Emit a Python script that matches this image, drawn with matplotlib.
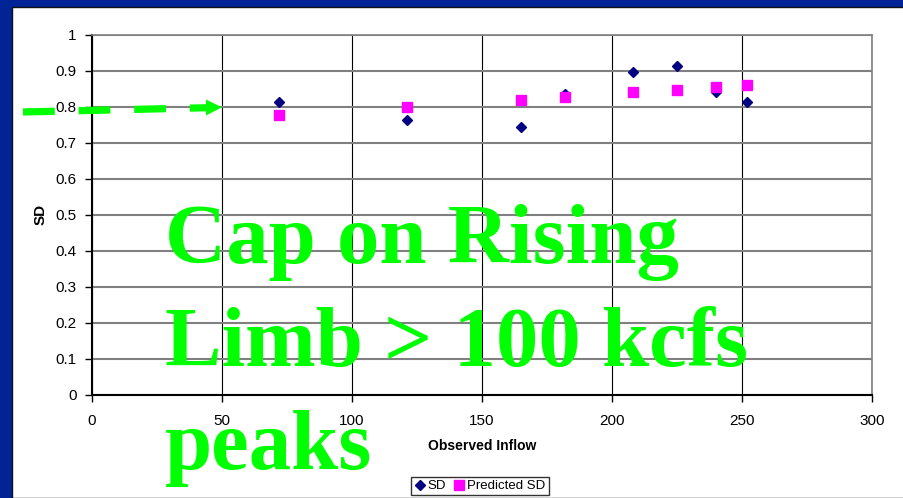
import matplotlib
matplotlib.use('Agg')
import matplotlib.pyplot as plt
from matplotlib.lines import Line2D
from matplotlib.patches import Rectangle, Polygon

# Observed inflow (kcfs) for each peak event
inflow = [72, 121, 165, 182, 208, 225, 240, 252]
# Standard deviation from observations and the predicted values
sd = [0.813, 0.762, 0.744, 0.835, 0.895, 0.912, 0.841, 0.813]
predicted_sd = [0.777, 0.798, 0.819, 0.827, 0.839, 0.847, 0.853, 0.859]

x_ticks = [0, 50, 100, 150, 200, 250, 300]
y_ticks = [0, 0.1, 0.2, 0.3, 0.4, 0.5, 0.6, 0.7, 0.8, 0.9, 1]
y_tick_labels = ['0', '0.1', '0.2', '0.3', '0.4', '0.5', '0.6', '0.7', '0.8', '0.9', '1']

W, H = 904, 498
plt.rcParams['font.family'] = ['Liberation Sans', 'DejaVu Sans']

fig = plt.figure(figsize=(W / 100, H / 100), dpi=100)
fig.patch.set_facecolor('#002396')

# white slide panel
fig.add_artist(Rectangle((12 / W, 0), 1, 1 - 7 / H, transform=fig.transFigure,
                         facecolor='white', edgecolor='#111111', linewidth=1, zorder=0))

ax = fig.add_axes([92 / W, 1 - 394.5 / H, 780 / W, 360 / H])
ax.set_facecolor('white')
ax.set_xlim(0, 300)
ax.set_ylim(0, 1)
ax.set_xticks(x_ticks)
ax.set_yticks(y_ticks)
ax.set_yticklabels(y_tick_labels)
ax.tick_params(axis='both', labelsize=11, length=5, width=1, color='black')
ax.tick_params(axis='y', pad=6)
ax.tick_params(axis='x', pad=9)

ax.yaxis.grid(True, color='#808080', linewidth=1.5)
ax.xaxis.grid(True, color='black', linewidth=0.8)
ax.set_axisbelow(True)
for side in ['left', 'bottom']:
    ax.spines[side].set_color('black')
    ax.spines[side].set_linewidth(1.5)
for side in ['top', 'right']:
    ax.spines[side].set_color('#808080')
    ax.spines[side].set_linewidth(1.2)

ax.plot(inflow, sd, linestyle='none', marker='D', markersize=5.3,
        color='#000080', label='SD', zorder=3)
ax.plot(inflow, predicted_sd, linestyle='none', marker='s', markersize=7.5,
        color='#FF00FF', label='Predicted SD', zorder=4)

ax.set_ylabel('SD', fontsize=11, fontweight='bold', labelpad=6)
ax.set_xlabel('Observed Inflow', fontsize=10, fontweight='bold', labelpad=8)

leg = fig.legend(loc='center', bbox_to_anchor=(480 / W, 1 - 486 / H), ncol=2,
                 fontsize=9.5, frameon=True, fancybox=False, handlelength=0.8,
                 handletextpad=0.2, columnspacing=0.6, borderpad=0.25,
                 markerscale=0.9)
leg.get_frame().set_edgecolor('black')
leg.get_frame().set_linewidth(1)

# green dashed pointer towards the 0.8 level
fig.add_artist(Line2D([23 / W, 208 / W], [1 - 112 / H, 1 - 107.7 / H],
                      transform=fig.transFigure, color='#00FF00', linewidth=5.2,
                      linestyle=(0, (4.4, 3.3)), solid_capstyle='butt',
                      dash_capstyle='butt', zorder=5))
fig.add_artist(Polygon([(206 / W, 1 - 99.5 / H), (206 / W, 1 - 115.5 / H),
                        (222 / W, 1 - 107.3 / H)], closed=True,
                       transform=fig.transFigure, facecolor='#00FF00',
                       edgecolor='none', zorder=5))

# overlay caption
caption = ['Cap on Rising', 'Limb > 100 kcfs', 'peaks']
baselines = [263, 366, 469]
for line, base in zip(caption, baselines):
    fig.text(165 / W, 1 - base / H, line, ha='left', va='baseline',
             family='Liberation Serif', fontweight='bold', fontsize=61,
             color='#00FF00', zorder=6)

fig.savefig('out.png', dpi=100, facecolor=fig.get_facecolor())
